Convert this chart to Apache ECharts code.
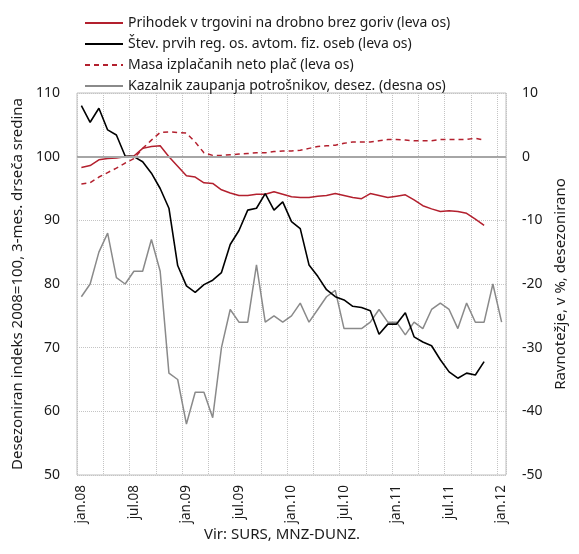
<!DOCTYPE html>
<html>
<head>
<meta charset="utf-8">
<script src="https://cdn.jsdelivr.net/npm/echarts@6/dist/echarts.min.js"></script>
<style>
  html, body { margin: 0; padding: 0; background: #fff; }
  #chart { width: 579px; height: 554px; }
</style>
</head>
<body>
<div id="chart"></div>
<script>
// mesečne kategorije jan.08 - jan.12
const monthNames = ['jan', 'feb', 'mar', 'apr', 'maj', 'jun', 'jul', 'avg', 'sep', 'okt', 'nov', 'dec'];
const months = [];
for (let y = 8; y <= 12; y++) {
    for (let m = 0; m < 12; m++) {
        if (y === 12 && m > 0) break;
        months.push(monthNames[m] + '.' + (y < 10 ? '0' + y : y));
    }
}

const seriesNames = [
    'Prihodek v trgovini na drobno brez goriv (leva os)',
    'Štev. prvih reg. os. avtom. fiz. oseb (leva os)',
    'Masa izplačanih neto plač (leva os)',
    'Kazalnik zaupanja potrošnikov, desez. (desna os)'
];

// leva os
const prihodek = [98.3, 98.6, 99.5, 99.7, 99.8, 100.0, 100.1, 101.3, 101.6, 101.7,
    100.0, 98.5, 97.0, 96.8, 95.9, 95.8, 94.8, 94.3, 93.9, 93.9,
    94.1, 94.1, 94.5, 94.1, 93.7, 93.6, 93.6, 93.8, 93.9, 94.2,
    93.9, 93.6, 93.4, 94.2, 93.9, 93.6, 93.8, 94.0, 93.2, 92.3,
    91.8, 91.4, 91.5, 91.4, 91.1, 90.2, 89.2, null, null];
const avtomobili = [108.0, 105.4, 107.6, 104.2, 103.4, 100.1, 100.0, 99.2, 97.4, 95.0,
    91.9, 82.9, 79.7, 78.7, 79.9, 80.6, 81.8, 86.2, 88.4, 91.6,
    91.9, 94.2, 91.6, 92.9, 89.8, 88.7, 83.0, 81.2, 79.1, 78.0,
    77.5, 76.5, 76.3, 75.8, 72.1, 73.7, 73.7, 75.5, 71.7, 70.9,
    70.3, 68.1, 66.2, 65.2, 66.0, 65.7, 67.8, null, null];
const placeMasa = [95.7, 95.9, 96.8, 97.5, 98.2, 99.0, 99.7, 101.3, 102.6, 103.8,
    103.9, 103.8, 103.7, 102.3, 100.6, 100.2, 100.2, 100.3, 100.4, 100.5,
    100.6, 100.6, 100.8, 100.9, 100.9, 101.0, 101.3, 101.6, 101.7, 101.8,
    102.1, 102.3, 102.3, 102.3, 102.5, 102.7, 102.7, 102.6, 102.5, 102.5,
    102.5, 102.7, 102.7, 102.7, 102.7, 102.9, 102.6, null, null];
// desna os
const zaupanje = [-22, -20, -15, -12, -19, -20, -18, -18, -13, -18,
    -34, -35, -42, -37, -37, -41, -30, -24, -26, -26,
    -17, -26, -25, -26, -25, -23, -26, -24, -22, -21,
    -27, -27, -27, -26, -24, -26, -26, -28, -26, -27,
    -24, -23, -24, -27, -23, -26, -26, -20, -26];

const FONT = 'Noto Sans';
const TXT = '#1a1a1a';
const RED = '#b3202e';

const chart = echarts.init(document.getElementById('chart'));

const option = {
    backgroundColor: '#fff',
    animation: false,
    textStyle: { fontFamily: FONT },
    grid: {
        left: 77, right: 73, top: 93, bottom: 79,
        show: true, borderColor: '#bfbfbf', borderWidth: 1
    },
    legend: {
        orient: 'vertical',
        left: 79, top: 11,
        itemWidth: 38, itemHeight: 14, itemGap: 7,
        data: seriesNames,
        itemStyle: { opacity: 0 },
        textStyle: { fontFamily: FONT, fontSize: 14, color: TXT }
    },
    xAxis: {
        type: 'category',
        data: months,
        boundaryGap: true,
        axisLine: { show: false },
        axisTick: { show: false },
        axisLabel: {
            interval: 5, rotate: 90, margin: 10,
            fontFamily: FONT, fontSize: 13.5, color: TXT
        },
        splitLine: {
            show: true, interval: 2,
            lineStyle: { color: '#c4c4c4', type: 'dotted', width: 1 }
        }
    },
    yAxis: [{
        type: 'value', min: 50, max: 110, interval: 10,
        name: 'Desezoniran indeks 2008=100, 3-mes. drseča sredina',
        nameLocation: 'middle', nameRotate: 90, nameGap: 46,
        nameTextStyle: { fontFamily: FONT, fontSize: 15, color: TXT },
        axisLine: { show: false }, axisTick: { show: false },
        axisLabel: { margin: 17, fontFamily: FONT, fontSize: 14, color: TXT },
        splitLine: { lineStyle: { color: '#c4c4c4', type: 'dotted', width: 1 } }
    }, {
        type: 'value', min: -50, max: 10, interval: 10,
        name: 'Ravnotežje, v %, desezonirano',
        nameLocation: 'middle', nameRotate: 90, nameGap: 45,
        nameTextStyle: { fontFamily: FONT, fontSize: 15, color: TXT },
        axisLine: { show: false }, axisTick: { show: false },
        axisLabel: { margin: 16, fontFamily: FONT, fontSize: 14, color: TXT },
        splitLine: { show: false }
    }],
    graphic: [{
        type: 'text',
        x: 282,
        y: 527,
        style: { text: 'Vir: SURS, MNZ-DUNZ.', fontFamily: FONT, fontSize: 15, fill: TXT, textAlign: 'center' }
    }],
    series: [{
        // siva – zaupanje potrošnikov, z ničelno črto
        name: seriesNames[3],
        type: 'line', yAxisIndex: 1,
        data: zaupanje,
        symbol: 'none',
        lineStyle: { color: '#8a8a8a', width: 1.5 },
        itemStyle: { color: '#8a8a8a' },
        markLine: {
            silent: true, symbol: 'none', label: { show: false },
            lineStyle: { color: '#a6a6a6', type: 'solid', width: 2 },
            data: [{ yAxis: 0 }]
        }
    }, {
        name: seriesNames[0],
        type: 'line', yAxisIndex: 0,
        data: prihodek,
        symbol: 'none',
        lineStyle: { color: RED, width: 1.5 },
        itemStyle: { color: RED }
    }, {
        name: seriesNames[2],
        type: 'line', yAxisIndex: 0,
        data: placeMasa,
        symbol: 'none',
        lineStyle: { color: RED, width: 1.5, type: [5, 4] },
        itemStyle: { color: RED }
    }, {
        name: seriesNames[1],
        type: 'line', yAxisIndex: 0,
        data: avtomobili,
        symbol: 'none',
        lineStyle: { color: '#000', width: 1.6 },
        itemStyle: { color: '#000' }
    }]
};

chart.setOption(option);
</script>
</body>
</html>
